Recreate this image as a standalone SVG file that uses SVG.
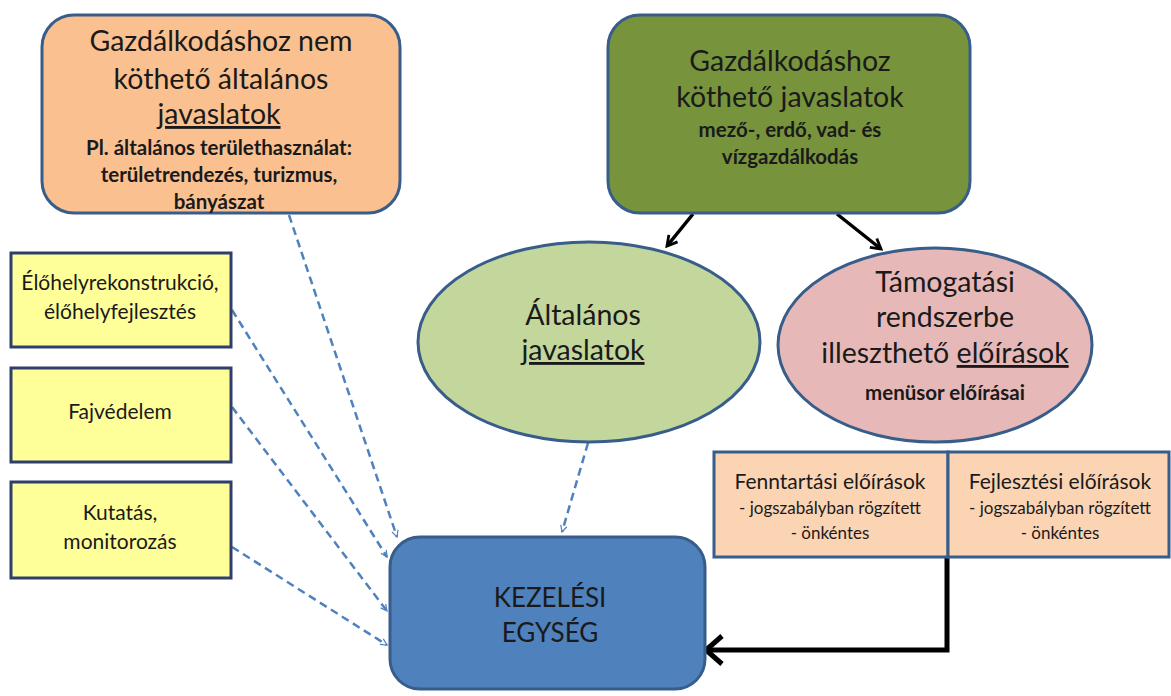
<svg xmlns="http://www.w3.org/2000/svg" width="1171" height="696" viewBox="0 0 1171 696">
<style>
text{font-family:Lato,"Open Sans","Liberation Sans",sans-serif;fill:#1a1a1a;text-anchor:middle}
.big{font-size:28.5px}
.cap{font-size:26px}
.sb{font-size:20.5px;font-weight:bold}
.ys{font-size:21px}
.fs{font-size:21px}
.fx{font-size:17px}
.u{text-decoration:underline}
.dash{stroke:#4F81BD;stroke-width:2.5;stroke-dasharray:8 5;fill:none;marker-end:url(#open)}
.blk{stroke:#000;fill:none}
.yel{fill:#FFFF99;stroke:#2F3E6B;stroke-width:3}
.pch{fill:#FBD4B4;stroke:#385D8A;stroke-width:3}
</style>
<defs>
<marker id="open" viewBox="0 0 10 10" refX="9" refY="5" markerWidth="8" markerHeight="8" orient="auto" markerUnits="userSpaceOnUse">
<path d="M1,1 L9,5 L1,9" fill="none" stroke="#4F81BD" stroke-width="1.5"/>
</marker>
<marker id="blkm" viewBox="0 0 10 10" refX="8" refY="5" markerWidth="4" markerHeight="4" orient="auto">
<path d="M1,1 L8,5 L1,9" fill="none" stroke="#000" stroke-width="2"/>
</marker>
</defs>
<rect width="1171" height="696" fill="#fff"/>

<g id="connectors">
<path class="dash" d="M289,215 L397,537"/>
<path class="dash" d="M232,310 L387,557"/>
<path class="dash" d="M232,407 L387,611"/>
<path class="dash" d="M232,547 L387,645"/>
<path class="dash" d="M588,443 L562,532"/>
<path class="blk" stroke-width="3.5" d="M693,214 L667,246" marker-end="url(#blkm)"/>
<path class="blk" stroke-width="3.5" d="M837,214 L881,249" marker-end="url(#blkm)"/>
<path class="blk" stroke-width="5" d="M947,557 L947,650 L709,650"/>
<path class="blk" stroke-width="5" d="M722,636 L706,650 L722,664"/>
</g>

<g id="n-orange">
<rect x="42" y="15" width="358" height="198" rx="32" fill="#FAC090" stroke="#385D8A" stroke-width="3"/>
<text class="big" x="221" y="51">Gazdálkodáshoz nem</text>
<text class="big" x="221" y="89">köthető  általános</text>
<text class="big u" x="219" y="124">javaslatok</text>
<text class="sb" x="219" y="155">Pl. általános területhasználat:</text>
<text class="sb" x="219" y="182">területrendezés, turizmus,</text>
<text class="sb" x="219" y="209">bányászat</text>
</g>

<g id="n-green">
<rect x="608" y="15" width="362" height="198" rx="32" fill="#77933C" stroke="#385D8A" stroke-width="3"/>
<text class="big" x="790" y="71">Gazdálkodáshoz</text>
<text class="big" x="790" y="107">köthető javaslatok</text>
<text class="sb" x="790" y="137">mező-, erdő, vad- és</text>
<text class="sb" x="790" y="164">vízgazdálkodás</text>
</g>

<g id="n-y1">
<rect class="yel" x="11" y="253" width="220" height="94"/>
<text class="ys" x="120" y="290">Élőhelyrekonstrukció,</text>
<text class="ys" x="120" y="319">élőhelyfejlesztés</text>
</g>
<g id="n-y2">
<rect class="yel" x="11" y="368" width="220" height="94"/>
<text class="ys" x="120" y="419">Fajvédelem</text>
</g>
<g id="n-y3">
<rect class="yel" x="11" y="482" width="220" height="96"/>
<text class="ys" x="120" y="520">Kutatás,</text>
<text class="ys" x="120" y="549">monitorozás</text>
</g>

<g id="n-altalanos">
<ellipse cx="589" cy="342" rx="171" ry="100" fill="#C3D69B" stroke="#385D8A" stroke-width="3"/>
<text class="big" x="583" y="325">Általános</text>
<text class="big u" x="583" y="360">javaslatok</text>
</g>

<g id="n-tamogatasi">
<ellipse cx="935" cy="345" rx="157" ry="97" fill="#E6B9B8" stroke="#385D8A" stroke-width="3"/>
<text class="big" x="945" y="292">Támogatási</text>
<text class="big" x="945" y="327">rendszerbe</text>
<text class="big" x="945" y="363">illeszthető <tspan class="u">előírások</tspan></text>
<text class="sb" x="945" y="400">menüsor előírásai</text>
</g>

<g id="n-kezelesi">
<rect x="390" y="537" width="315" height="152" rx="30" fill="#4F81BD" stroke="#385D8A" stroke-width="3"/>
<text class="cap" x="550" y="607">KEZELÉSI</text>
<text class="cap" x="550" y="642">EGYSÉG</text>
</g>

<g id="n-fenntartasi">
<rect class="pch" x="714" y="452" width="234" height="105"/>
<text class="fs" x="830" y="489">Fenntartási előírások</text>
<text class="fx" x="830" y="514">- jogszabályban rögzített</text>
<text class="fx" x="830" y="539">- önkéntes</text>
</g>
<g id="n-fejlesztesi">
<rect class="pch" x="948" y="452" width="221" height="105"/>
<text class="fs" x="1060" y="489">Fejlesztési előírások</text>
<text class="fx" x="1060" y="514">- jogszabályban rögzített</text>
<text class="fx" x="1060" y="539">- önkéntes</text>
</g>
</svg>
